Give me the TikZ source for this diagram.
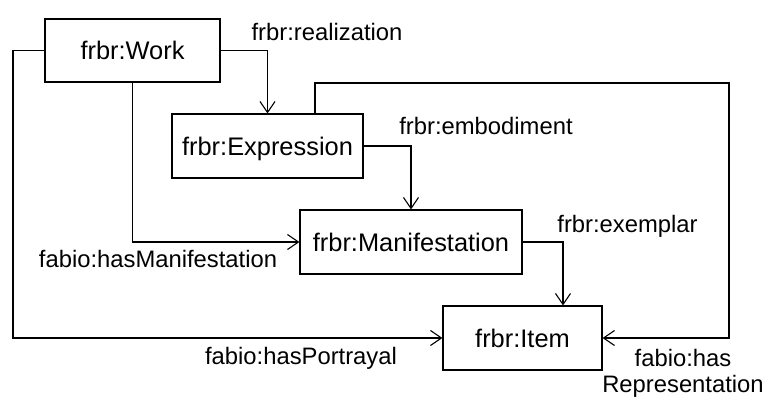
\documentclass[tikz,border=0pt]{standalone}
\usepackage{fontspec}
\setmainfont{Liberation Sans}
\usetikzlibrary{arrows.meta}
\begin{document}
\begin{tikzpicture}[x=1pt,y=-1pt,
  cls/.style={draw, line width=1.1pt, inner sep=0pt, font=\fontsize{25.4}{30}\selectfont, text height=18pt, text depth=0pt},
  lbl/.style={font=\fontsize{23.8}{29}\selectfont, anchor=base, inner sep=0pt},
  conn/.style={line width=1.1pt, -{Straight Barb[length=11pt,width=15pt,line width=1.1pt]}}]
\useasboundingbox (0,0) rectangle (765,397);
\node[cls, minimum width=175pt, minimum height=63pt] (w) at (132.5,50.5) {frbr:Work};
\node[cls, minimum width=191pt, minimum height=64pt] (e) at (267.5,146) {frbr:Expression};
\node[cls, minimum width=222pt, minimum height=64pt] (m) at (411,242) {frbr:Manifestation};
\node[cls, minimum width=159pt, minimum height=64pt] (i) at (522.5,338) {frbr:Item};
\coordinate (wl) at (13,50.5);
\coordinate (et) at (315,83);
\coordinate (er) at (729,83);
\draw[conn] (w.east) -| (e.north);
\draw[conn] (w.west) -- (wl) |- (i.west);
\draw[conn] (w.south) |- (m.west);
\draw[conn] (e.east) -| (m.north);
\draw[conn] (e.north -| et) -- (et) -- (er) |- (i.east);
\draw[conn] (m.east) -| ([xshift=40.5pt]i.north);
\node[lbl] (l1) at (327,40) {frbr:realization};
\node[lbl] (l2) at (486,134) {frbr:embodiment};
\node[lbl] (l3) at (627.5,232) {frbr:exemplar};
\node[lbl] (l4) at (158,267) {fabio:hasManifestation};
\node[lbl] (l5) at (301,364) {fabio:hasPortrayal};
\node[lbl] (l6) at (683,366) {fabio:has};
\node[lbl] (l7) at (683,392) {Representation};
\end{tikzpicture}
\end{document}
